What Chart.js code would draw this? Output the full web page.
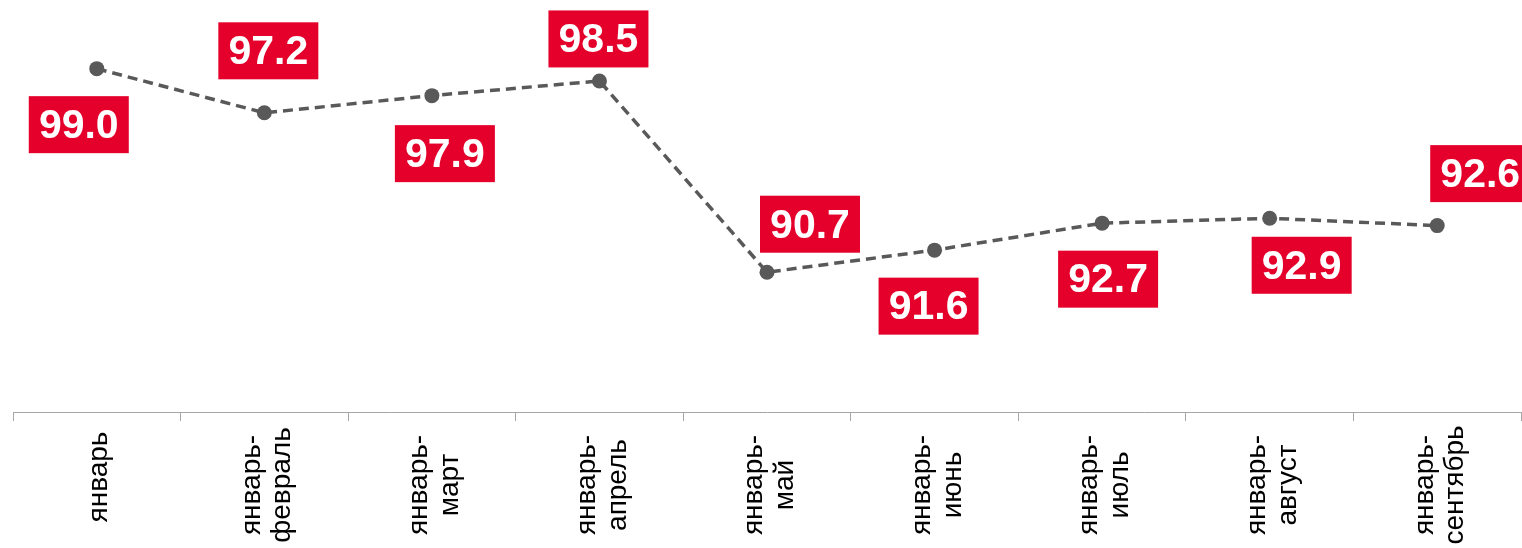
<!DOCTYPE html>
<html lang="ru">
    <head>
        <meta charset="UTF-8">
        <title>Индекс</title>
        <script src="https://cdn.jsdelivr.net/npm/chart.js"></script>
        <style>
            html, body { margin: 0; padding: 0; background: #fff; }
            #wrap { width: 1522px; height: 548px; }
        </style>
    </head>
    <body>
        <div id="wrap">
            <canvas id="indexChart" width="1522" height="548"></canvas>
        </div>

        <script>
            const categories = [
                ['январь'],
                ['январь-', 'февраль'],
                ['январь-', 'март'],
                ['январь-', 'апрель'],
                ['январь-', 'май'],
                ['январь-', 'июнь'],
                ['январь-', 'июль'],
                ['январь-', 'август'],
                ['январь-', 'сентябрь']
            ];
            const values = [99.0, 97.2, 97.9, 98.5, 90.7, 91.6, 92.7, 92.9, 92.6];

            // where each red label sits relative to its point (px)
            const labelShift = [
                [-18, 56], [4, -62], [13, 58], [-1, -42], [43, -48],
                [-6, 56], [6, 56], [32, 47], [43, -52]
            ];

            const redLabels = {
                id: 'redLabels',
                afterDatasetsDraw(chart) {
                    const ctx = chart.ctx;
                    const meta = chart.getDatasetMeta(0);
                    ctx.save();
                    ctx.font = 'bold 41px "Liberation Sans", Arial, sans-serif';
                    ctx.textAlign = 'center';
                    ctx.textBaseline = 'middle';
                    meta.data.forEach((pt, i) => {
                        const cx = pt.x + labelShift[i][0];
                        const cy = pt.y + labelShift[i][1];
                        ctx.fillStyle = '#E4002B';
                        ctx.fillRect(cx - 50, cy - 28.5, 100, 57);
                        ctx.fillStyle = '#ffffff';
                        ctx.fillText(values[i].toFixed(1), cx, cy + 2);
                    });
                    ctx.restore();
                }
            };

            // excel-style rotated labels: lines centred on each other, block centred on the tick
            const centreTickLabels = {
                id: 'centreTickLabels',
                beforeDraw(chart) {
                    const scale = chart.scales.x;
                    scale.getLabelItems().forEach(item => {
                        if (item.moved) return;
                        const n = Array.isArray(item.label) ? item.label.length : 1;
                        item.options.translation[0] += -(n - 1) * item.font.lineHeight / 2 + 3;
                        item.options.translation[1] = n > 1 ? 485 : 477;
                        item.options.textAlign = 'center';
                        item.moved = true;
                    });
                }
            };

            const ctx = document.getElementById('indexChart').getContext('2d');
            const chart = new Chart(ctx, {
                type: 'line',
                data: {
                    labels: categories,
                    datasets: [{
                        data: values,
                        borderColor: '#595959',
                        borderWidth: 3.5,
                        borderDash: [10, 6],
                        pointRadius: 7.5,
                        pointBorderWidth: 0,
                        pointBackgroundColor: '#595959',
                        pointBorderColor: '#595959',
                        tension: 0,
                        clip: false
                    }]
                },
                options: {
                    responsive: false,
                    animation: false,
                    devicePixelRatio: 1,
                    layout: { autoPadding: false, padding: { left: 13, right: 1, top: 0, bottom: 0 } },
                    plugins: {
                        legend: { display: false },
                        tooltip: { enabled: false }
                    },
                    scales: {
                        x: {
                            offset: true,
                            grid: {
                                offset: true,
                                drawOnChartArea: false,
                                drawTicks: true,
                                tickLength: 9,
                                color: '#A6A6A6',
                                lineWidth: 1
                            },
                            border: { color: '#A6A6A6', width: 1 },
                            ticks: {
                                maxRotation: 90,
                                minRotation: 90,
                                autoSkip: false,
                                padding: 8,
                                color: '#000000',
                                font: { family: '"Liberation Sans", Arial, sans-serif', size: 28, lineHeight: 1.1 }
                            },
                            afterFit(axis) {
                                axis.height = 136;
                                axis.paddingLeft = 0;
                                axis.paddingRight = 0;
                            }
                        },
                        y: {
                            display: false,
                            min: 85,
                            max: 101.8
                        }
                    }
                },
                plugins: [redLabels, centreTickLabels]
            });
        </script>
    </body>
</html>
